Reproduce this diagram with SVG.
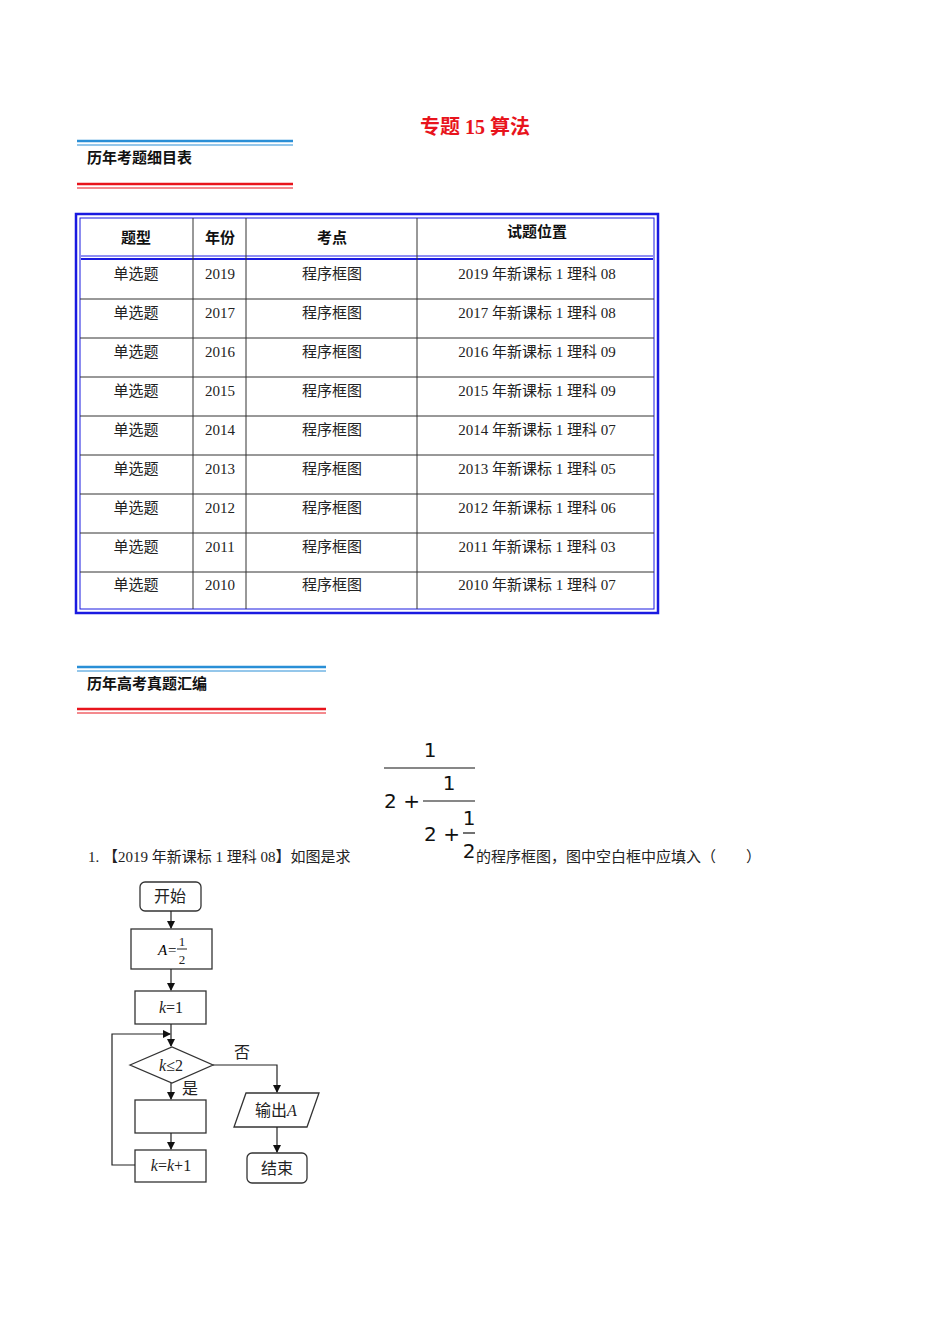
<svg xmlns="http://www.w3.org/2000/svg" width="950" height="1344" viewBox="0 0 950 1344">
<style>
.s{font-family:"Liberation Serif","Noto Sans CJK SC",serif;font-size:15px;fill:#222}
.h{font-family:"Liberation Sans","Noto Sans CJK SC",sans-serif;font-size:15px;font-weight:bold;fill:#111}
.c{text-anchor:middle}
.g{stroke:#333;stroke-width:1;fill:none}
.f{font-family:"DejaVu Sans",sans-serif;font-size:20px;fill:#111;text-anchor:middle}
.n{stroke:#333;stroke-width:1.3;fill:#fff}
.l{stroke:#222;stroke-width:1.2;fill:none}
.t{font-family:"Liberation Serif","Noto Sans CJK SC",serif;font-size:16px;fill:#222;text-anchor:middle}
</style>
<defs><marker id="a" markerWidth="8" markerHeight="8" refX="7" refY="4" orient="auto" markerUnits="userSpaceOnUse"><path d="M0,0L8,4L0,8z" fill="#111"/></marker></defs>
<rect width="950" height="1344" fill="#fff"/>
<text x="475" y="134" class="c" style="font-family:'Liberation Serif','Noto Sans CJK SC',serif;font-size:20px;font-weight:bold;fill:#e8141c">专题 15 算法</text>
<g id="sec1">
<line x1="77" y1="141" x2="293" y2="141" stroke="#2a8fd6" stroke-width="2.5"/><line x1="77" y1="145" x2="293" y2="145" stroke="#2a8fd6" stroke-width="1"/>
<text x="87" y="163" class="h">历年考题细目表</text>
<line x1="77" y1="184" x2="293" y2="184" stroke="#e8141c" stroke-width="2.5"/><line x1="77" y1="188" x2="293" y2="188" stroke="#e8141c" stroke-width="1"/>
</g>
<g id="table">
<rect x="76" y="214" width="582" height="399" fill="none" stroke="#1a1ae0" stroke-width="2.5"/>
<rect x="80" y="218" width="574" height="391" fill="none" stroke="#1a1ae0" stroke-width="1"/>
<line x1="81" y1="256" x2="653" y2="256" stroke="#6a6af0" stroke-width="1.5"/>
<line x1="81" y1="259" x2="653" y2="259" stroke="#1a1ae0" stroke-width="2"/>
<path class="g" d="M193,218V609M246,218V609M417,218V609M80,299H654M80,338H654M80,377H654M80,416H654M80,455H654M80,494H654M80,533H654M80,572H654"/>
<text x="136" y="243" class="h c">题型</text><text x="220" y="243" class="h c">年份</text><text x="332" y="243" class="h c">考点</text><text x="537" y="237" class="h c">试题位置</text>
<g class="s">
<text x="136" y="279" class="c">单选题</text><text x="220" y="279" class="c">2019</text><text x="332" y="279" class="c">程序框图</text><text x="537" y="279" class="c">2019 年新课标 1 理科 08</text>
<text x="136" y="318" class="c">单选题</text><text x="220" y="318" class="c">2017</text><text x="332" y="318" class="c">程序框图</text><text x="537" y="318" class="c">2017 年新课标 1 理科 08</text>
<text x="136" y="357" class="c">单选题</text><text x="220" y="357" class="c">2016</text><text x="332" y="357" class="c">程序框图</text><text x="537" y="357" class="c">2016 年新课标 1 理科 09</text>
<text x="136" y="396" class="c">单选题</text><text x="220" y="396" class="c">2015</text><text x="332" y="396" class="c">程序框图</text><text x="537" y="396" class="c">2015 年新课标 1 理科 09</text>
<text x="136" y="435" class="c">单选题</text><text x="220" y="435" class="c">2014</text><text x="332" y="435" class="c">程序框图</text><text x="537" y="435" class="c">2014 年新课标 1 理科 07</text>
<text x="136" y="474" class="c">单选题</text><text x="220" y="474" class="c">2013</text><text x="332" y="474" class="c">程序框图</text><text x="537" y="474" class="c">2013 年新课标 1 理科 05</text>
<text x="136" y="513" class="c">单选题</text><text x="220" y="513" class="c">2012</text><text x="332" y="513" class="c">程序框图</text><text x="537" y="513" class="c">2012 年新课标 1 理科 06</text>
<text x="136" y="552" class="c">单选题</text><text x="220" y="552" class="c">2011</text><text x="332" y="552" class="c">程序框图</text><text x="537" y="552" class="c">2011 年新课标 1 理科 03</text>
<text x="136" y="590" class="c">单选题</text><text x="220" y="590" class="c">2010</text><text x="332" y="590" class="c">程序框图</text><text x="537" y="590" class="c">2010 年新课标 1 理科 07</text>
</g>
</g>
<g id="sec2">
<line x1="77" y1="667" x2="326" y2="667" stroke="#2a8fd6" stroke-width="2.5"/><line x1="77" y1="671" x2="326" y2="671" stroke="#2a8fd6" stroke-width="1"/>
<text x="87" y="689" class="h">历年高考真题汇编</text>
<line x1="77" y1="709" x2="326" y2="709" stroke="#e8141c" stroke-width="2.5"/><line x1="77" y1="713" x2="326" y2="713" stroke="#e8141c" stroke-width="1"/>
</g>
<g id="formula">
<text x="430" y="757" class="f">1</text><line x1="384" y1="768" x2="475" y2="768" stroke="#111" stroke-width="1.2"/>
<text x="402" y="808" class="f">2 +</text>
<text x="449" y="790" class="f">1</text><line x1="423" y1="801" x2="475" y2="801" stroke="#111" stroke-width="1.2"/>
<text x="442" y="841" class="f">2 +</text>
<text x="469" y="825" class="f">1</text><line x1="463" y1="833" x2="475" y2="833" stroke="#111" stroke-width="1.2"/>
<text x="469" y="858" class="f">2</text>
</g>
<text x="88" y="862" class="s">1.  【2019 年新课标 1 理科 08】如图是求</text>
<text x="476" y="862" class="s">的程序框图，图中空白框中应填入（　　）</text>
<g id="flow">
<g id="start"><rect x="140" y="882" width="61" height="29" rx="5" class="n"/><text x="170" y="902" class="t">开始</text></g>
<g id="assignA"><rect x="131" y="929" width="81" height="40" class="n"/><text x="158" y="955" style="font-family:'Liberation Serif',serif;font-size:15px;font-style:italic">A</text><text x="168" y="955" style="font-family:'Liberation Serif',serif;font-size:15px">=</text><text x="182" y="946" class="t" style="font-size:13px">1</text><line x1="177" y1="949" x2="187" y2="949" stroke="#222"/><text x="182" y="964" class="t" style="font-size:13px">2</text></g>
<g id="k1"><rect x="135" y="991" width="71" height="33" class="n"/><text x="171" y="1013" class="t"><tspan font-style="italic">k</tspan>=1</text></g>
<g id="cond"><path d="M130,1065L172,1047L213,1065L172,1083Z" class="n"/><text x="171" y="1071" class="t"><tspan font-style="italic">k</tspan>≤2</text></g>
<g id="blank"><rect x="135" y="1100" width="71" height="33" class="n"/></g>
<g id="inc"><rect x="135" y="1150" width="71" height="32" class="n"/><text x="171" y="1171" class="t"><tspan font-style="italic">k</tspan>=<tspan font-style="italic">k</tspan>+1</text></g>
<g id="out"><path d="M246,1093H319L307,1127H234Z" class="n"/><text x="276" y="1116" class="t">输出<tspan font-style="italic">A</tspan></text></g>
<g id="end"><rect x="247" y="1153" width="60" height="30" rx="5" class="n"/><text x="277" y="1174" class="t">结束</text></g>
<g id="connectors" class="l">
<path d="M171,911V928" marker-end="url(#a)"/>
<path d="M171,969V990" marker-end="url(#a)"/>
<path d="M171,1024V1046" marker-end="url(#a)"/>
<path d="M171,1083V1099" marker-end="url(#a)"/>
<path d="M171,1133V1149" marker-end="url(#a)"/>
<path d="M135,1165H112V1034H170" marker-end="url(#a)"/>
<path d="M213,1065H277V1092" marker-end="url(#a)"/>
<path d="M277,1127V1152" marker-end="url(#a)"/>
</g>
<text x="242" y="1058" class="t">否</text><text x="190" y="1094" class="t">是</text>
</g>
</svg>
